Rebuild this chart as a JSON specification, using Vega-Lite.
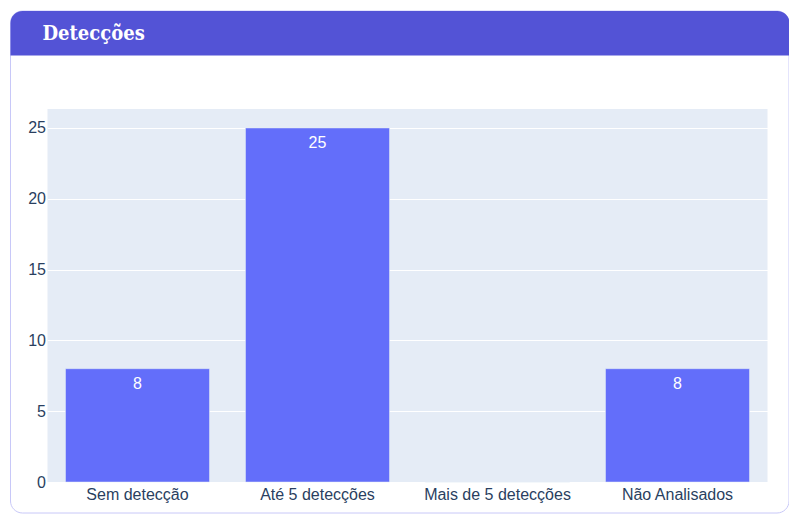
{
  "$schema": "https://vega.github.io/schema/vega-lite/v6.json",
  "padding": {"left": 9.5, "top": 10, "right": 0, "bottom": 2},
  "background": "white",
  "config": {"font": "Liberation Sans"},
  "datasets": {
    "bars": [
      {"categoria": "Sem detecção", "valor": 8},
      {"categoria": "Até 5 detecções", "valor": 25},
      {"categoria": "Mais de 5 detecções", "valor": 0},
      {"categoria": "Não Analisados", "valor": 8}
    ],
    "card": [{"titulo": "Detecções"}]
  },
  "concat": [
    {
      "width": 742,
      "height": 502,
      "view": {"fill": null, "stroke": null},
      "data": {"name": "card"},
      "layer": [
        {
          "mark": {"type": "rect", "fill": "white", "stroke": "#C8C8F8", "strokeWidth": 1, "cornerRadius": 12},
          "encoding": {
            "x": {"datum": -37, "type": "quantitative", "scale": {"domain": [0, 742], "nice": false, "zero": false}, "axis": null},
            "x2": {"datum": 741.5},
            "y": {"datum": 0, "type": "quantitative", "scale": {"domain": [0, 502], "reverse": true, "nice": false, "zero": false}, "axis": null},
            "y2": {"datum": 502}
          }
        },
        {
          "mark": {"type": "rect", "color": "#5353D6", "cornerRadiusTopLeft": 12, "cornerRadiusTopRight": 12},
          "encoding": {
            "x": {"datum": -37, "type": "quantitative"},
            "x2": {"datum": 742},
            "y": {"datum": 0, "type": "quantitative"},
            "y2": {"datum": 44.5}
          }
        },
        {
          "mark": {"type": "text", "font": "DejaVu Serif Condensed", "fontWeight": "bold", "fontSize": 20, "color": "white", "align": "left", "baseline": "alphabetic"},
          "encoding": {
            "x": {"datum": -5, "type": "quantitative"},
            "y": {"datum": 28.5, "type": "quantitative"},
            "text": {"field": "titulo"}
          }
        }
      ]
    },
    {
      "width": 720,
      "height": 373,
      "view": {"fill": "#E5ECF6", "stroke": null},
      "data": {"name": "bars"},
      "encoding": {
        "x": {
          "field": "categoria", "type": "nominal", "sort": null,
          "scale": {"paddingInner": 0.2, "paddingOuter": 0.1},
          "axis": {"title": null, "labelAngle": 0, "ticks": false, "domain": false, "grid": false, "labelFontSize": 16, "labelColor": "#2a3f5f", "labelPadding": 4}
        },
        "y": {
          "field": "valor", "type": "quantitative",
          "scale": {"domain": [0, 26.34], "nice": false},
          "axis": {"title": null, "values": [0, 5, 10, 15, 20, 25], "ticks": false, "domain": false, "gridColor": "white", "gridWidth": 1, "labelFontSize": 16, "labelColor": "#2a3f5f", "labelPadding": 2, "minExtent": 37, "maxExtent": 37}
        }
      },
      "layer": [
        {"mark": {"type": "bar", "color": "#636EFA", "stroke": "#E5ECF6", "strokeWidth": 0.5}},
        {
          "transform": [{"filter": "datum.valor > 0"}],
          "mark": {"type": "text", "color": "white", "fontSize": 16, "baseline": "top", "dy": 7.5},
          "encoding": {"text": {"field": "valor", "type": "quantitative"}}
        }
      ]
    }
  ],
  "columns": 1,
  "align": "none",
  "spacing": -405
}
